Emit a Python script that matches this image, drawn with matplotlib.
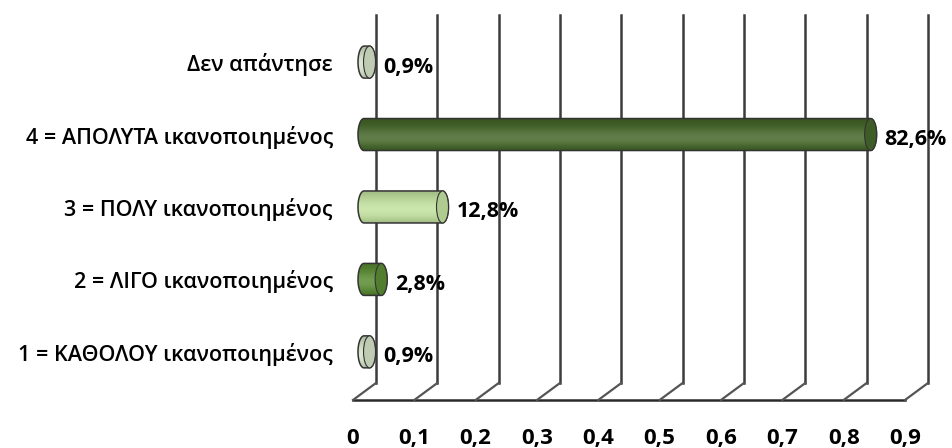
import numpy as np
import matplotlib
matplotlib.use("Agg")
import matplotlib.pyplot as plt
from matplotlib.path import Path
from matplotlib.patches import PathPatch, Ellipse
from matplotlib.transforms import ScaledTranslation, blended_transform_factory
from matplotlib.colors import to_rgb

# Survey responses (satisfaction level) and their shares
categories = [
    "1 = ΚΑΘΟΛΟΥ ικανοποιημένος",
    "2 = ΛΙΓΟ ικανοποιημένος",
    "3 = ΠΟΛΥ ικανοποιημένος",
    "4 = ΑΠΟΛΥΤΑ ικανοποιημένος",
    "Δεν απάντησε",
]
values = [0.009, 0.028, 0.128, 0.826, 0.009]
value_labels = ["0,9%", "2,8%", "12,8%", "82,6%", "0,9%"]
bar_colors = ["#d5e2c7", "#5a8b33", "#c2e19f", "#45672a", "#d5e2c7"]
tick_values = [0, 0.1, 0.2, 0.3, 0.4, 0.5, 0.6, 0.7, 0.8, 0.9]
tick_labels = ["0", "0,1", "0,2", "0,3", "0,4", "0,5", "0,6", "0,7", "0,8", "0,9"]

plt.rcParams["font.family"] = ["Open Sans", "DejaVu Sans"]

W, H, DPI = 953, 448, 100
X0, X1 = -0.04, 0.9
zero_px, max_px = 376, 928                  # x = 0 and x = 0.9 on the back wall
px_x = (max_px - zero_px) / 0.9             # pixels per data unit (x)
ax_left = zero_px + X0 * px_x
ax_top, ax_bottom = 15, 383
Y0, Y1 = -0.43, 4.65
px_y = (ax_bottom - ax_top) / (Y1 - Y0)
label_right = 333                           # right edge of the category labels

fig = plt.figure(figsize=(W / DPI, H / DPI), dpi=DPI)
ax = fig.add_axes([ax_left / W, (H - ax_bottom) / H,
                   (max_px - ax_left) / W, (ax_bottom - ax_top) / H])
ax.set_xlim(X0, X1)
ax.set_ylim(Y0, Y1)
for s in ax.spines.values():
    s.set_visible(False)
ax.set_xticks([])
ax.set_yticks(range(len(categories)), categories, fontsize=15.5, fontweight="semibold")
ax.tick_params(axis="y", length=0, pad=(ax_left - label_right) * 72 / DPI)


def px(v):
    return v / DPI


blend = blended_transform_factory(ax.transData, ax.transAxes)

# back wall gridlines
for v in tick_values:
    ax.plot([v, v], [0, 1], transform=blend,
            color="#3c3c3c", lw=1.8, zorder=1, clip_on=False)

# floor: front edge and slanted depth edges
depth_dx, depth_dy = 23, 17
dx = depth_dx / px_x
dy = depth_dy / (ax_bottom - ax_top)
ax.plot([tick_values[0] - dx, tick_values[-1] - dx], [-dy, -dy],
        transform=blend, color="#2a2a2a", lw=1.8, clip_on=False, zorder=1)
for v in tick_values:
    ax.plot([v, v - dx], [0, -dy], transform=blend, color="#555555",
            lw=1.6, clip_on=False, zorder=1)

# tick labels along the front floor edge
for v, lab in zip(tick_values, tick_labels):
    ax.text(v - dx, -55 / (ax_bottom - ax_top), lab, transform=blend,
            ha="center", va="center", fontsize=16, fontweight="bold",
            clip_on=False)

# cylinder bars
bar_trans = ax.transData + ScaledTranslation(px(-12), 0, fig.dpi_scale_trans)
bar_h = 32 / px_y
cap_a = 6 / px_x
t = np.linspace(-np.pi / 2, np.pi / 2, 40)


def shade(color):
    base = np.array(to_rgb(color))
    s = np.linspace(0, 1, 64)[:, None]          # 0 = bottom, 1 = top
    light = np.sin(np.pi * s ** 0.8)
    rgb = base * (0.82 + 0.18 * light) + (1 - base) * 0.15 * light ** 3
    return np.clip(rgb[:, None, :], 0, 1)


for y, v, c in zip(range(len(values)), values, bar_colors):
    left = np.column_stack([0 - cap_a * np.cos(t), y + bar_h / 2 * np.sin(t)])
    right = np.column_stack([v + cap_a * np.cos(t[::-1]),
                             y + bar_h / 2 * np.sin(t[::-1])])
    verts = np.vstack([left, right, left[:1]])
    codes = [Path.MOVETO] + [Path.LINETO] * (len(verts) - 2) + [Path.CLOSEPOLY]
    body = PathPatch(Path(verts, codes), facecolor="none",
                     edgecolor="#333333", lw=1.1, transform=bar_trans, zorder=4)
    img = ax.imshow(shade(c), extent=(-cap_a, v + cap_a, y - bar_h / 2, y + bar_h / 2),
                    origin="lower", aspect="auto", interpolation="bilinear",
                    transform=bar_trans, zorder=3)
    img.set_clip_path(body)
    ax.add_patch(body)
    base = np.array(to_rgb(c))
    cap = Ellipse((v, y), 2 * cap_a, bar_h, facecolor=base * 0.9,
                  edgecolor="#333333", lw=0.8, transform=bar_trans, zorder=5)
    ax.add_patch(cap)

    ax.text(v, y, value_labels[y], fontsize=15.5, fontweight="bold",
            ha="left", va="center",
            transform=ax.transData + ScaledTranslation(px(2), px(-5), fig.dpi_scale_trans),
            zorder=6, clip_on=False)

ax.set_xlim(X0, X1)
ax.set_ylim(Y0, Y1)
fig.savefig("out.png", dpi=DPI)
